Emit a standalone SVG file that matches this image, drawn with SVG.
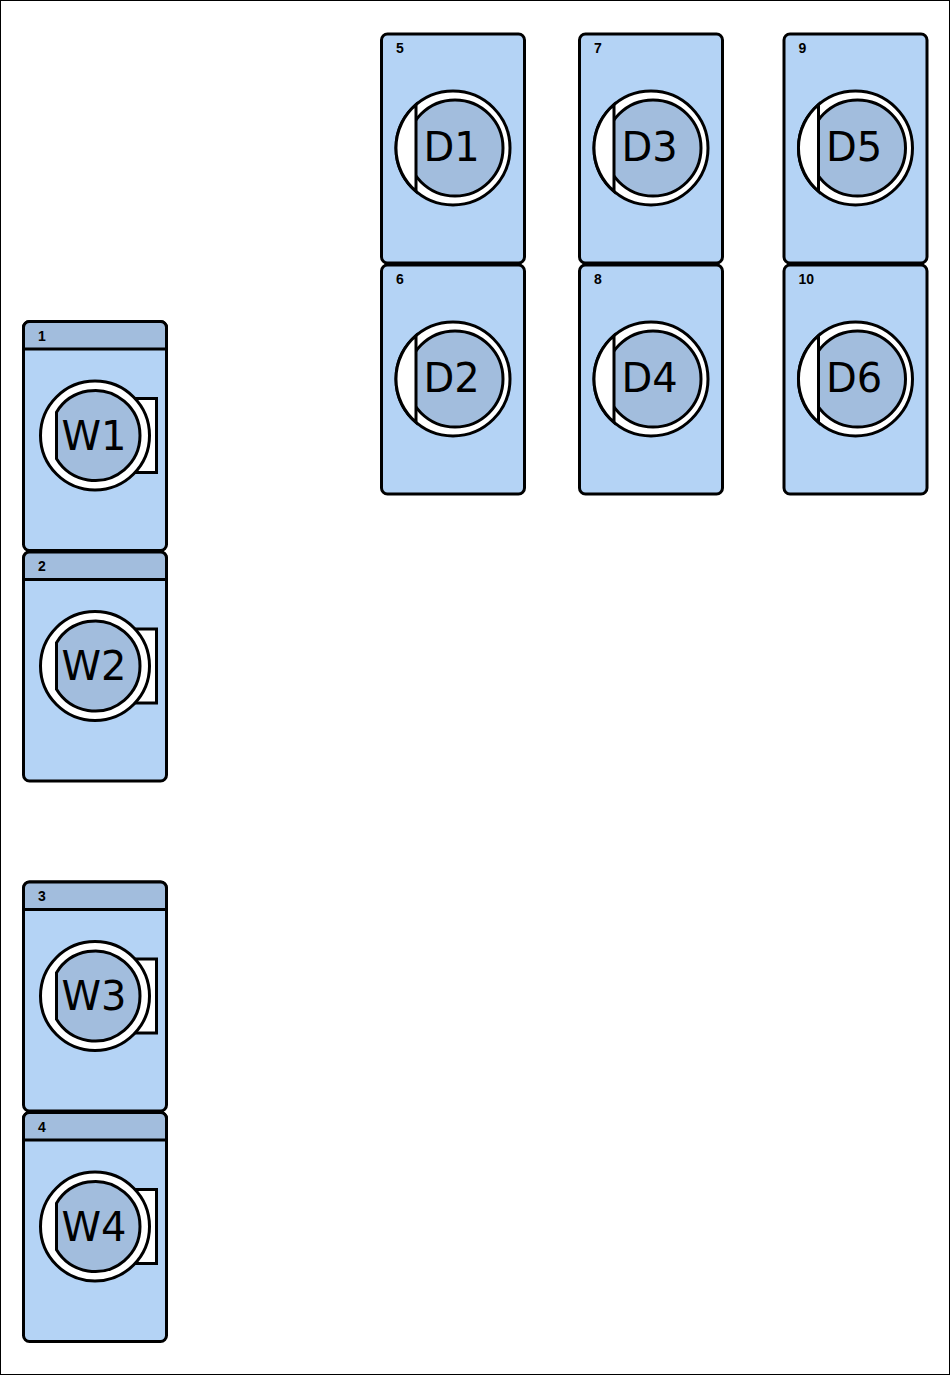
<svg xmlns="http://www.w3.org/2000/svg" width="950" height="1375" viewBox="0 0 950 1375">
  <style>
    .box{fill:#b4d3f5;stroke:#000;stroke-width:3}
    .hdr{fill:#a2bddd;stroke:#000;stroke-width:3}
    .ring{fill:#fff;stroke:#000;stroke-width:3}
    .drum{fill:#a2bddd;stroke:#000;stroke-width:3}
    .num{font-family:"Liberation Sans",Arial,sans-serif;font-weight:bold;font-size:14px;fill:#000}
    .big{font-family:"DejaVu Sans",Verdana,sans-serif;font-size:40px;fill:#000;text-anchor:middle}
  </style>
  <defs>
    <g id="washer">
      <rect class="box" x="0" y="0" width="143" height="229" rx="6"/>
      <path class="hdr" d="M0,27.5 V6 A6,6 0 0 1 6,0 H137 A6,6 0 0 1 143,6 V27.5 Z"/>
      <rect class="ring" x="92" y="77" width="41" height="74"/>
      <circle class="ring" cx="71.5" cy="114" r="54.5"/>
      <path class="drum" d="M33,90.7 A45,45 0 1 1 33,137.3 Z"/>
    </g>
    <g id="dryer">
      <rect class="box" x="0" y="0" width="143" height="229" rx="6"/>
      <circle class="ring" cx="71.5" cy="114" r="57"/>
      <circle class="drum" cx="73.5" cy="114" r="48"/>
      <path class="ring" d="M34.5,70.6 A57,57 0 0 0 34.5,157.4 Z"/>
    </g>
  </defs>
  <rect x="0.5" y="0.5" width="949" height="1374" fill="#fff" stroke="#000" stroke-width="1"/>
  <g id="connectors"/>
  <g id="W1" transform="translate(23.5,321.5)">
    <use href="#washer"/>
    <text class="num" x="14.5" y="19">1</text>
    <text class="big" x="70.5" y="128">W1</text>
  </g>
  <g id="W2" transform="translate(23.5,552)">
    <use href="#washer"/>
    <text class="num" x="14.5" y="19">2</text>
    <text class="big" x="70.5" y="128">W2</text>
  </g>
  <g id="W3" transform="translate(23.5,882)">
    <use href="#washer"/>
    <text class="num" x="14.5" y="19">3</text>
    <text class="big" x="70.5" y="128">W3</text>
  </g>
  <g id="W4" transform="translate(23.5,1112.5)">
    <use href="#washer"/>
    <text class="num" x="14.5" y="19">4</text>
    <text class="big" x="70.5" y="128">W4</text>
  </g>
  <g id="D1" transform="translate(381.5,34)">
    <use href="#dryer"/>
    <text class="num" x="14.5" y="19">5</text>
    <text class="big" x="70" y="127">D1</text>
  </g>
  <g id="D2" transform="translate(381.5,265)">
    <use href="#dryer"/>
    <text class="num" x="14.5" y="19">6</text>
    <text class="big" x="70" y="127">D2</text>
  </g>
  <g id="D3" transform="translate(579.5,34)">
    <use href="#dryer"/>
    <text class="num" x="14.5" y="19">7</text>
    <text class="big" x="70" y="127">D3</text>
  </g>
  <g id="D4" transform="translate(579.5,265)">
    <use href="#dryer"/>
    <text class="num" x="14.5" y="19">8</text>
    <text class="big" x="70" y="127">D4</text>
  </g>
  <g id="D5" transform="translate(784,34)">
    <use href="#dryer"/>
    <text class="num" x="14.5" y="19">9</text>
    <text class="big" x="70" y="127">D5</text>
  </g>
  <g id="D6" transform="translate(784,265)">
    <use href="#dryer"/>
    <text class="num" x="14.5" y="19">10</text>
    <text class="big" x="70" y="127">D6</text>
  </g>
</svg>
